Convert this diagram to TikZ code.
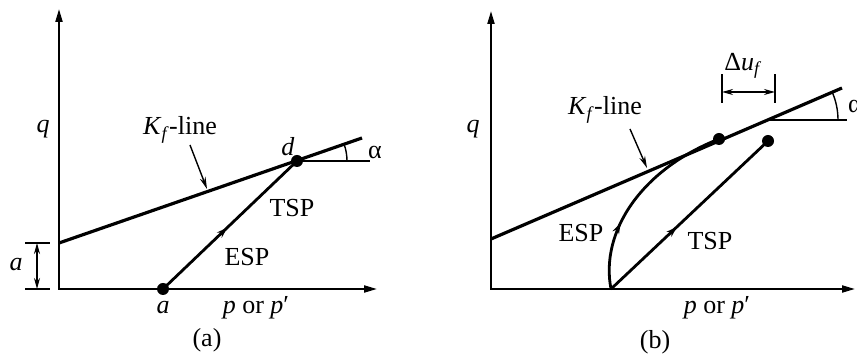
\documentclass[tikz,border=0pt]{standalone}
\usepackage{fontspec}
\setmainfont{Liberation Serif}
\usetikzlibrary{arrows.meta,decorations.markings}
\begin{document}
\begin{tikzpicture}[x=1pt,y=1pt,
  axis/.style={line width=2pt,-{Triangle[length=13pt,width=7pt]}},
  kfline/.style={line width=3.2pt},
  spline/.style={line width=2.8pt},
  thinline/.style={line width=1.4pt},
  lbl/.style={font=\fontsize{26}{30}\selectfont, inner sep=0pt},
  dot/.style={circle,fill=black,inner sep=0pt,minimum size=12pt},
  midarrow/.style={postaction={decorate},decoration={markings,mark=at position #1 with {\arrow{Stealth[length=11pt,width=7pt]}}}},
  pointer/.style={thinline,-{Stealth[length=12pt,width=6pt]}},
  dimarrow/.style={thinline,{Stealth[length=11pt,width=6pt]}-{Stealth[length=11pt,width=6pt]}}
]
\useasboundingbox (0,0) rectangle (857,358);

% ---------- panel (a) ----------
\coordinate (O1) at (59,69);
\coordinate (Y1) at (59,349);
\coordinate (X1) at (377,69);
\draw[axis] (59,68) -- (Y1);
\draw[axis] (58,69) -- (X1);
\coordinate (K1s) at (59,115);
\coordinate (K1e) at (362,220);
\draw[kfline] (K1s) -- (K1e);
\node[dot] (d1) at (297,197) {};
\node[dot] (a1) at (163,69) {};
\draw[spline, midarrow=0.48] (a1.center) -- (d1.center);
\coordinate (H1) at (370,197);
\draw[thinline] (d1.center) -- (H1);
\coordinate (R1) at (347,197);
\draw[thinline] (R1) arc (0:19.1:50);
\node[lbl] (alpha1) at (375,205) {α};
\node[lbl] (dlab) at (288,211) {\textit{d}};
\node[lbl] (q1) at (43,229) {\textit{q}};
\node[lbl] (alab) at (163,50) {\textit{a}};
\coordinate (T1a) at (25,115);
\coordinate (T1b) at (50,115);
\coordinate (T2a) at (25,69);
\coordinate (T2b) at (50,69);
\draw[thinline] (T1a) -- (T1b);
\draw[thinline] (T2a) -- (T2b);
\coordinate (D1a) at (37,69);
\coordinate (D1b) at (37,115);
\draw[dimarrow] (D1a) -- (D1b);
\node[lbl] (dimlab) at (16,93) {\textit{a}};
\node[lbl] (poa) at (256,50) {\textit{p} or \textit{p}′};
\node[lbl] (tspa) at (292,150) {TSP};
\node[lbl] (espa) at (247,101) {ESP};
\node[lbl] (kla) at (180,228) {\textit{K}\textsubscript{\textit{f}}-line};
\coordinate (PA1) at (190,213);
\coordinate (PA2) at (207,169);
\draw[pointer] (PA1) -- (PA2);
\node[lbl] (capa) at (207,18) {(a)};

% ---------- panel (b) ----------
\coordinate (O2) at (491,69);
\coordinate (Y2) at (491,347);
\coordinate (X2) at (855,69);
\draw[axis] (491,68) -- (Y2);
\draw[axis] (490,69) -- (X2);
\coordinate (K2s) at (491,119);
\coordinate (K2e) at (842,270);
\draw[kfline] (K2s) -- (K2e);
\node[dot] (e2) at (719,219) {};
\node[dot] (t2) at (768,217) {};
\coordinate (S2) at (611,69);
\draw[spline, midarrow=0.42] (S2) -- (t2.center);
\draw[spline, midarrow=0.34] (S2) .. controls (600,125) and (640,188) .. (e2.center);
\coordinate (H2a) at (768,238);
\coordinate (H2b) at (847,238);
\draw[thinline] (H2a) -- (H2b);
\coordinate (R2) at (838,238);
\draw[thinline] (R2) arc (0:23.3:70);
\node[lbl,anchor=west] (alpha2) at (848,251) {α};
\coordinate (U1a) at (722,255);
\coordinate (U1b) at (722,284);
\coordinate (U2a) at (775,255);
\coordinate (U2b) at (775,284);
\draw[thinline] (U1a) -- (U1b);
\draw[thinline] (U2a) -- (U2b);
\coordinate (U3a) at (722,266);
\coordinate (U3b) at (775,266);
\draw[dimarrow] (U3a) -- (U3b);
\node[lbl] (dul) at (743,292) {Δ\textit{u}\textsubscript{\textit{f}}};
\node[lbl] (q2) at (473,229) {\textit{q}};
\node[lbl] (pob) at (717,50) {\textit{p} or \textit{p}′};
\node[lbl] (tspb) at (710,117) {TSP};
\node[lbl] (espb) at (581,125) {ESP};
\node[lbl] (klb) at (605,248) {\textit{K}\textsubscript{\textit{f}}-line};
\coordinate (PB1) at (630,229);
\coordinate (PB2) at (647,190);
\draw[pointer] (PB1) -- (PB2);
\node[lbl] (capb) at (655,16) {(b)};
\end{tikzpicture}
\end{document}
